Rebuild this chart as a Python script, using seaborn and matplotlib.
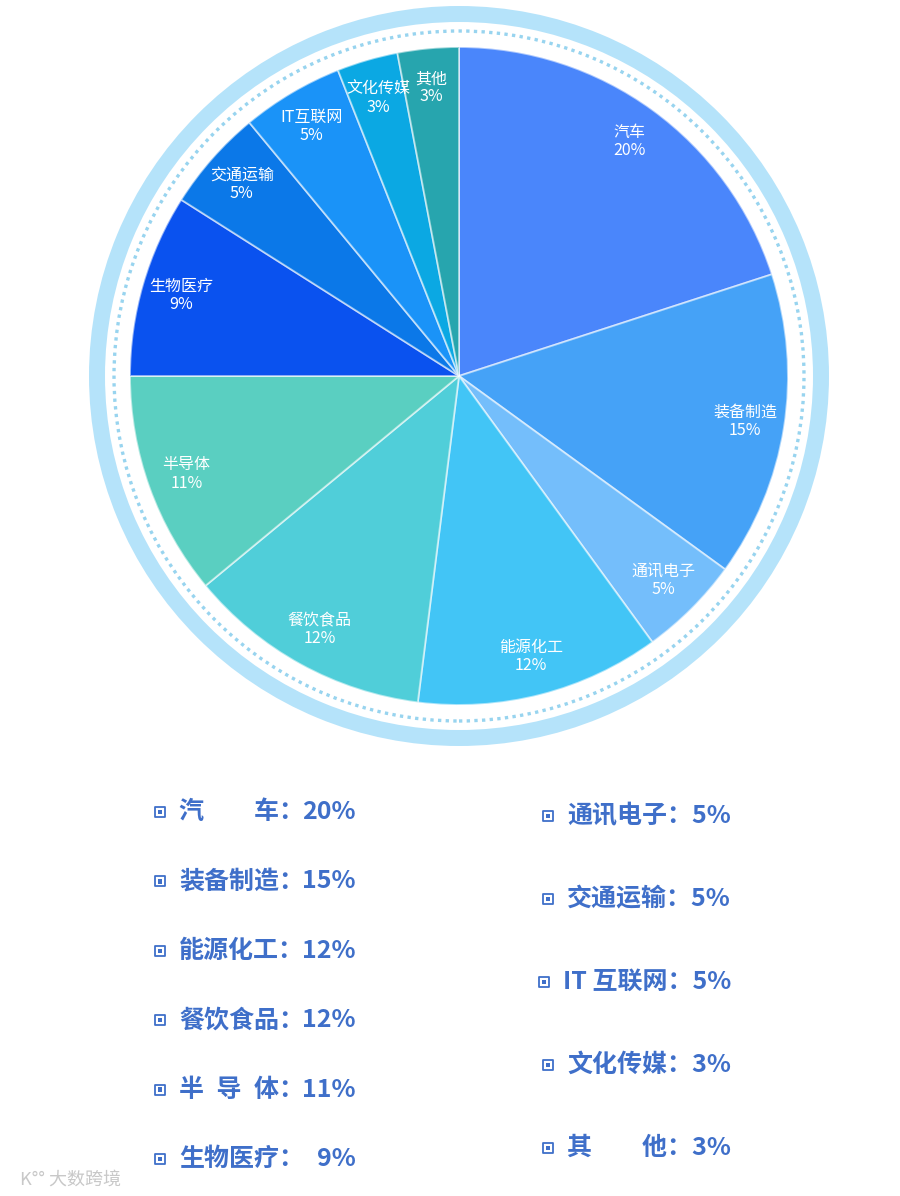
import matplotlib
matplotlib.use("Agg")
import matplotlib.pyplot as plt
from matplotlib.patches import Wedge, Circle
import seaborn as sns

# industry share data (clockwise from 12 o'clock)
categories = ["汽车", "装备制造", "通讯电子", "能源化工", "餐饮食品", "半导体",
              "生物医疗", "交通运输", "IT互联网", "文化传媒", "其他"]
shares = [20, 15, 5, 12, 12, 11, 9, 5, 5, 3, 3]
slice_colors = ["#4A86FB", "#45A2F7", "#74BEFB", "#42C5F6", "#50CED9", "#5ACFC1",
                "#0A52EF", "#0B78E8", "#1A93F8", "#0BA8E3", "#27A5AE"]

# legend text, split into two columns
legend_left = ["汽\u3000\u3000车：", "装备制造：", "能源化工：", "餐饮食品：", "半\u2002导\u2002体：", "生物医疗："]
legend_left_vals = ["20%", "15%", "12%", "12%", "11%", "9%"]
legend_right = ["通讯电子：", "交通运输：", "IT 互联网：", "文化传媒：", "其\u3000\u3000他："]
legend_right_vals = ["5%", "5%", "5%", "3%", "3%"]

sns.set_theme(style="white")
plt.rcParams["font.family"] = ["Noto Sans CJK SC", "DejaVu Sans"]

W, H = 900, 1196
fig = plt.figure(figsize=(W / 100, H / 100), dpi=100)
ax = fig.add_axes([0, 0, 1, 1])

cx, cy, R = 459, H - 376, 329

# decorative outer band + dotted ring
ax.add_patch(Wedge((cx, cy), 370, 0, 360, width=16, facecolor="#B5E3FA", edgecolor="none"))
ax.add_patch(Circle((cx, cy), 345, fill=False, edgecolor="#98D4EF", linewidth=2.4,
                    linestyle=(0, (1, 1.3))))

wedges, texts, autotexts = ax.pie(
    shares,
    colors=sns.color_palette(slice_colors),
    startangle=90,
    counterclock=False,
    center=(cx, cy),
    radius=R,
    autopct="%d%%",
    pctdistance=0.88,
    wedgeprops=dict(edgecolor=(1, 1, 1, 0.55), linewidth=1.4),
    frame=True,
)
ax.set_xlim(0, W)
ax.set_ylim(0, H)
ax.axis("off")

for cat, val, t in zip(categories, shares, autotexts):
    t.set_text(f"{cat}\n{val}%")
    t.set_color("white")
    t.set_fontsize(11.5)
    t.set_linespacing(1.1)
    t.set_ha("center")
    t.set_va("center")

text_color = "#3F6FC9"
renderer = fig.canvas.get_renderer()

def bullet(x, y):
    ax.scatter([x], [y], marker="s", s=60, facecolor="white",
               edgecolor=text_color, linewidths=1.3, zorder=5)
    ax.scatter([x], [y], marker="s", s=10, facecolor=text_color,
               edgecolor="none", zorder=6)

# left column: label left-aligned, value right-aligned
for i, (lab, v) in enumerate(zip(legend_left, legend_left_vals)):
    y = H - (812 + i * 69.4)
    bullet(160, y)
    ax.text(179, y, lab, fontsize=18, fontweight="bold", color=text_color,
            ha="left", va="center")
    ax.text(356, y, v, fontsize=18, fontweight="bold", color=text_color,
            ha="right", va="center")

# right column: whole row right-aligned, bullet just before the text
for i, (lab, v) in enumerate(zip(legend_right, legend_right_vals)):
    y = H - (816 + i * 83)
    t = ax.text(731, y, lab + v, fontsize=18, fontweight="bold", color=text_color,
                ha="right", va="center")
    x0 = t.get_window_extent(renderer).x0
    bullet(x0 - 19, y)

# watermark
ax.text(20, H - 1180, "K°° 大数跨境", fontsize=13, color="#C8C8C8", ha="left", va="center")

fig.savefig("out.png", dpi=100, facecolor="white")
